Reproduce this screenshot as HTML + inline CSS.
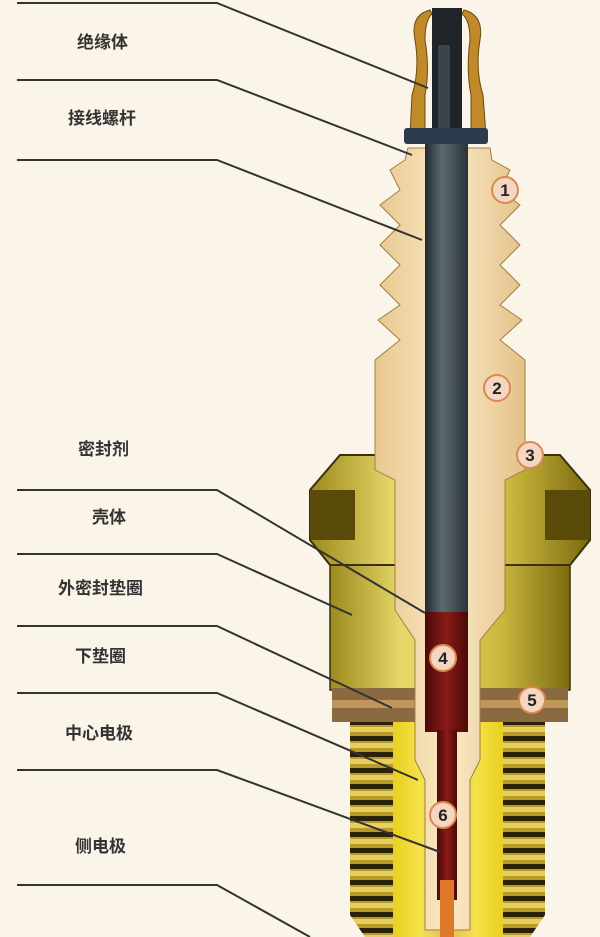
<!DOCTYPE html>
<html><head><meta charset="utf-8"><style>
html,body{margin:0;padding:0;background:#fbf4e9;}
svg{display:block}
text{font-family:"Liberation Sans","Noto Sans CJK SC",sans-serif;font-weight:bold;font-size:17px;fill:#333;}
.n{font-size:17px;fill:#222;text-anchor:middle;font-weight:bold}
</style></head><body>
<svg width="600" height="937" viewBox="0 0 600 937">
<defs>
<linearGradient id="ins" x1="0" x2="1"><stop offset="0" stop-color="#e8c88e"/><stop offset=".5" stop-color="#fbe9c6"/><stop offset="1" stop-color="#e3c088"/></linearGradient>
<linearGradient id="rod" x1="0" x2="1"><stop offset="0" stop-color="#222a30"/><stop offset=".4" stop-color="#5d6a72"/><stop offset="1" stop-color="#2a3238"/></linearGradient>
<linearGradient id="red" x1="0" x2="1"><stop offset="0" stop-color="#4a0808"/><stop offset=".5" stop-color="#8a1c18"/><stop offset="1" stop-color="#4a0808"/></linearGradient>
<linearGradient id="shell" x1="0" x2="1"><stop offset="0" stop-color="#9c8a1c"/><stop offset=".3" stop-color="#e6d86a"/><stop offset=".7" stop-color="#cdbb40"/><stop offset="1" stop-color="#7c6a10"/></linearGradient>
<pattern id="tp" width="10" height="16" patternUnits="userSpaceOnUse"><rect width="10" height="16" fill="#b89a28"/><rect y="0" width="10" height="5" fill="#2a2206"/><rect y="7" width="10" height="5" fill="#e8d060"/></pattern>
<linearGradient id="inner" x1="0" x2="1"><stop offset="0" stop-color="#e8d020"/><stop offset=".25" stop-color="#f4e24a"/><stop offset=".5" stop-color="#e8b860"/><stop offset=".75" stop-color="#f4e24a"/><stop offset="1" stop-color="#e8d020"/></linearGradient>
</defs>
<rect width="600" height="937" fill="#fbf4e9"/>
<!-- threads -->
<path d="M350 720 H545 V915 L530 937 H365 L350 915 Z" fill="url(#tp)"/>
<rect x="393" y="720" width="110" height="217" fill="url(#inner)"/>
<!-- shell body -->
<path d="M330 560 H570 V690 H330 Z" fill="url(#shell)" stroke="#3a300a" stroke-width="1.5"/>
<rect x="332" y="688" width="236" height="34" fill="#8a6a40"/>
<rect x="332" y="700" width="236" height="8" fill="#c0965a"/>
<!-- hex -->
<path d="M310 490 L340 455 H560 L590 490 V540 L570 565 H330 L310 540 Z" fill="url(#shell)" stroke="#3a300a" stroke-width="2"/>
<path d="M310 490 H355 V540 H310 Z" fill="#5a4a0a"/>
<path d="M545 490 H590 V540 H545 Z" fill="#5a4a0a"/>
<!-- insulator -->
<path d="M408 148 H490 L492 160 L510 170 L500 190 L520 205 L500 225 L520 245 L500 265 L520 285 L500 305 L522 320 L500 340 L525 360 V470 L505 480 V610 L480 640 V760 L470 780 V930 H425 V780 L415 760 V640 L395 610 V480 L375 470 V360 L400 340 L378 320 L400 305 L380 285 L400 265 L380 245 L400 225 L380 205 L400 190 L390 170 L405 160 Z" fill="url(#ins)" stroke="#a08040" stroke-width="1"/>
<!-- terminal clips -->
<path d="M430 10 Q410 15 415 40 Q420 70 412 95 L410 135 H425 V95 Q430 70 425 40 Q425 20 432 14 Z" fill="#c08a2a" stroke="#6a4a10"/>
<path d="M464 10 Q484 15 480 40 Q475 70 483 95 L486 135 H471 V95 Q466 70 470 40 Q470 20 462 14 Z" fill="#c08a2a" stroke="#6a4a10"/>
<!-- rod -->
<rect x="432" y="8" width="30" height="130" fill="#1e2428"/>
<rect x="438" y="45" width="12" height="90" fill="#3a444a"/>
<rect x="404" y="128" width="84" height="16" rx="3" fill="#2c3c4c"/>
<rect x="425" y="144" width="43" height="470" fill="url(#rod)"/>
<rect x="425" y="612" width="43" height="120" fill="url(#red)"/>
<rect x="437" y="730" width="20" height="170" fill="url(#red)"/>
<rect x="440" y="880" width="14" height="57" fill="#e0782a"/>
<!-- connectors -->
<g stroke="#333" stroke-width="2" fill="none">
<polyline points="17,3 217,3 428,88"/>
<polyline points="17,80 217,80 412,155"/>
<polyline points="17,160 217,160 422,240"/>
<polyline points="17,490 217,490 425,613"/>
<polyline points="17,554 217,554 352,615"/>
<polyline points="17,626 217,626 392,708"/>
<polyline points="17,693 217,693 418,780"/>
<polyline points="17,770 217,770 440,852"/>
<polyline points="17,885 217,885 310,937"/>
</g>
<text x="77" y="48">绝缘体</text>
<text x="68" y="124">接线螺杆</text>
<text x="78" y="455">密封剂</text>
<text x="92" y="523">壳体</text>
<text x="58" y="594">外密封垫圈</text>
<text x="75" y="662">下垫圈</text>
<text x="65" y="739">中心电极</text>
<text x="75" y="852">侧电极</text>
<g fill="#f5d6c2" stroke="#d88a50" stroke-width="2">
<circle cx="505" cy="190" r="13"/><circle cx="497" cy="388" r="13"/><circle cx="530" cy="455" r="13"/>
<circle cx="443" cy="658" r="13"/><circle cx="532" cy="700" r="13"/><circle cx="443" cy="815" r="13"/>
</g>
<text class="n" x="505" y="196">1</text><text class="n" x="497" y="394">2</text><text class="n" x="530" y="461">3</text>
<text class="n" x="443" y="664">4</text><text class="n" x="532" y="706">5</text><text class="n" x="443" y="821">6</text>
</svg>
</body></html>
